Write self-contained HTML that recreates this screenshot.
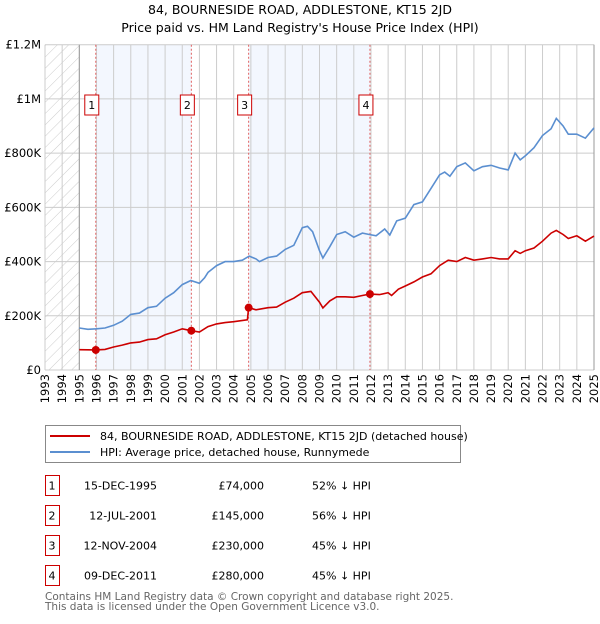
<!DOCTYPE html>
<html><head><meta charset="utf-8"><style>
body{margin:0;background:#fff;font-family:"DejaVu Sans","Liberation Sans",sans-serif;}
svg text{font-family:"DejaVu Sans","Liberation Sans",sans-serif;}
</style></head><body>
<svg id="c" width="600" height="620" xmlns="http://www.w3.org/2000/svg">
<defs><pattern id="hatch" width="8" height="8" patternUnits="userSpaceOnUse" patternTransform="rotate(45)"><line x1="0" y1="0" x2="0" y2="8" stroke="#ccc" stroke-width="1"/></pattern></defs>
<text x="300" y="14" text-anchor="middle" font-size="12.5">84, BOURNESIDE ROAD, ADDLESTONE, KT15 2JD</text>
<text x="300" y="32" text-anchor="middle" font-size="12.5">Price paid vs. HM Land Registry's House Price Index (HPI)</text>
<g id="plot"></g>
<g>
<rect x="45.5" y="425.5" width="415" height="37" fill="#fff" stroke="#888"/>
<line x1="50" y1="436" x2="90" y2="436" stroke="#cc0000" stroke-width="2"/>
<text x="100" y="440" font-size="11">84, BOURNESIDE ROAD, ADDLESTONE, KT15 2JD (detached house)</text>
<line x1="50" y1="452" x2="90" y2="452" stroke="#5b8fd0" stroke-width="2"/>
<text x="100" y="456" font-size="11">HPI: Average price, detached house, Runnymede</text>
</g>
<g id="table" font-size="11"></g>
<text x="45" y="600" font-size="10.5" fill="#666">Contains HM Land Registry data © Crown copyright and database right 2025.</text>
<text x="45" y="610" font-size="10.5" fill="#666">This data is licensed under the Open Government Licence v3.0.</text>
</svg>
<script>
const hpiX=[1995,1995.5,1996,1996.5,1997,1997.5,1998,1998.5,1999,1999.5,2000,2000.5,2001,2001.5,2002,2002.3,2002.5,2003,2003.5,2004,2004.5,2004.9,2005.3,2005.5,2006,2006.5,2007,2007.5,2008,2008.3,2008.6,2009,2009.2,2009.6,2010,2010.5,2011,2011.5,2011.9,2012.3,2012.8,2013.1,2013.5,2014,2014.5,2015,2015.5,2016,2016.3,2016.6,2017,2017.5,2018,2018.5,2019,2019.5,2020,2020.4,2020.7,2021,2021.5,2022,2022.5,2022.8,2023.2,2023.5,2024,2024.5,2025];
const hpiV=[155,150,152,155,165,180,205,210,230,235,265,285,315,330,320,340,360,385,400,400,405,420,410,400,415,420,445,460,525,530,510,440,413,455,500,510,490,505,500,495,520,498,550,560,610,620,670,720,730,715,750,764,735,750,755,745,738,800,775,790,820,865,890,928,900,870,870,855,893];
const redX=[1995,1995.96,1996.5,1997,1997.5,1998,1998.5,1999,1999.5,2000,2000.5,2001,2001.53,2002,2002.5,2003,2003.5,2004,2004.8,2004.87,2005.3,2006,2006.5,2007,2007.5,2008,2008.5,2009,2009.2,2009.6,2010,2010.5,2011,2011.5,2011.94,2012.5,2013,2013.2,2013.6,2014,2014.5,2015,2015.5,2016,2016.5,2017,2017.5,2018,2018.5,2019,2019.5,2020,2020.4,2020.7,2021,2021.5,2022,2022.5,2022.8,2023.2,2023.5,2024,2024.5,2025];
const redV=[75,74,76,85,92,100,103,112,115,130,140,152,145,140,160,170,175,178,185,230,222,230,232,250,265,285,290,250,229,255,270,270,268,275,280,278,285,275,298,310,325,343,355,385,405,400,415,405,410,415,410,410,440,430,440,450,475,505,515,500,485,495,475,494];
const saleX=[1995.96,2001.53,2004.87,2011.94];
const saleV=[74,145,230,280];
const saleLabels=["1","2","3","4"];
const saleDates=["15-DEC-1995","12-JUL-2001","12-NOV-2004","09-DEC-2011"];
const salePrices=["£74,000","£145,000","£230,000","£280,000"];
const saleHpi=["52% ↓ HPI","56% ↓ HPI","45% ↓ HPI","45% ↓ HPI"];
const yTicks=[0,200,400,600,800,1000,1200];
const yTickLabels=["£0","£200K","£400K","£600K","£800K","£1M","£1.2M"];
const years=[];for(let y=1993;y<=2025;y++)years.push(y);

const L=45,R=594,T=44.7,B=370;
const X=v=>L+(v-1993)/(2025-1993)*(R-L);
const Y=v=>B-v/1200*(B-T);
const NS="http://www.w3.org/2000/svg";
const g=document.getElementById('plot');
function mk(tag,attrs,parent){const e=document.createElementNS(NS,tag);for(const k in attrs)e.setAttribute(k,attrs[k]);(parent||g).appendChild(e);return e;}
let r=mk('rect',{x:X(saleX[0]),y:T,width:X(saleX[1])-X(saleX[0]),height:B-T,fill:'#f3f7fe'});


r=mk('rect',{x:X(saleX[2]),y:T,width:X(saleX[3])-X(saleX[2]),height:B-T,fill:'#f3f7fe'});


r=mk('rect',{x:L,y:T,width:X(1995)-L,height:B-T,fill:'url(#hatch)'});


years.forEach(y=>{const l=mk('line',{x1:X(y),x2:X(y),y1:T,y2:B,stroke:'#ccc','stroke-width':1});

});
yTicks.forEach((v,i)=>{const l=mk('line',{x1:L,x2:R,y1:Y(v),y2:Y(v),stroke:'#ccc','stroke-width':1});


const t=mk('text',{x:L-4,y:Y(v)+4,'text-anchor':'end','font-size':'11.5'});t.textContent=yTickLabels[i];

});
let ax=mk('line',{x1:X(1995),x2:X(1995),y1:T,y2:B,stroke:'#999'});


ax=mk('line',{x1:R,x2:R,y1:T,y2:B,stroke:'#999'});


years.forEach(y=>{const t=mk('text',{x:0,y:0,'text-anchor':'end','font-size':'11.5',transform:`translate(${X(y)+4},${B+4}) rotate(-90)`});t.textContent=y;

});
saleX.forEach((s,i)=>{const l=mk('line',{x1:X(s),x2:X(s),y1:T,y2:B,stroke:'#e06060','stroke-width':1,'stroke-dasharray':'2,2'});


const bx=mk('rect',{x:X(s)-11,y:95,width:14,height:20,fill:'#fff',stroke:'#c00'});


const t=mk('text',{x:X(s)-4,y:109,'text-anchor':'middle','font-size':'11'});t.textContent=saleLabels[i];

});
function pts(xs,vs){return xs.map((x,i)=>X(x).toFixed(1)+','+Y(vs[i]).toFixed(1)).join(' ');}
let p=mk('polyline',{points:pts(hpiX,hpiV),fill:'none',stroke:'#5b8fd0','stroke-width':1.6});


p=mk('polyline',{points:pts(redX,redV),fill:'none',stroke:'#cc0000','stroke-width':1.6});


saleX.forEach((s,i)=>{const c=mk('circle',{cx:X(s),cy:Y(saleV[i]),r:4,fill:'#cc0000'});

});
const tb=document.getElementById('table');
saleLabels.forEach((lab,i)=>{const yy=483+i*30;
const b=mk('rect',{x:45.5,y:yy-7.5,width:14,height:20,fill:'#fff',stroke:'#c00'},tb);


const cells=[[52,'middle',lab],[157,'end',saleDates[i]],[264,'end',salePrices[i]],[312,'start',saleHpi[i]]];
const nm=['table-num','table-date','table-price','table-hpi'];
cells.forEach((c,j)=>{const t=mk('text',{x:c[0],y:yy+6.5,'text-anchor':c[1]},tb);t.textContent=c[2];

});});
</script>
</body></html>
